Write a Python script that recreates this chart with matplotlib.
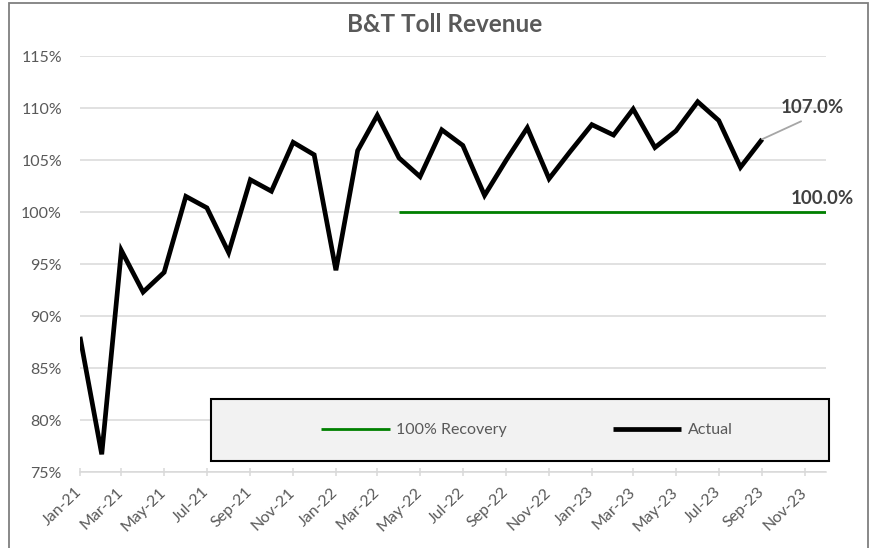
import matplotlib
matplotlib.use("Agg")
import matplotlib.pyplot as plt
import matplotlib.dates as mdates
from matplotlib.patches import Rectangle
from matplotlib.ticker import FuncFormatter, MultipleLocator
import pandas as pd

# ---- data ----
actual_start = "2021-01-01"
actual_values = [88.0, 76.7, 96.3, 92.3, 94.2, 101.5, 100.4, 96.1, 103.1, 102.0, 106.7, 105.5,
                 94.4, 105.9, 109.3, 105.2, 103.4, 107.9, 106.4, 101.6, 105.0, 108.1, 103.2, 105.8,
                 108.4, 107.4, 109.9, 106.2, 107.8, 110.6, 108.8, 104.3, 107.0]
recovery_start = "2022-04-01"
recovery_end = "2023-12-01"
recovery_level = 100.0
title = "B&T Toll Revenue"
series_names = ["100% Recovery", "Actual"]

actual_months = pd.date_range(actual_start, periods=len(actual_values), freq="MS")
recovery_months = pd.date_range(recovery_start, recovery_end, freq="MS")
recovery_values = [recovery_level] * len(recovery_months)

W, H = 875, 548
fig = plt.figure(figsize=(W / 100, H / 100), dpi=100)
plt.rcParams['font.family'] = ['Lato', 'DejaVu Sans']

def fx(px):
    return px / W

def fy(py):
    return 1 - py / H

ax_l, ax_r, ax_t, ax_b = 80, 826, 56, 472
ax = fig.add_axes([fx(ax_l), fy(ax_b), fx(ax_r - ax_l), (ax_b - ax_t) / H])

grid_c = "#d9d9d9"
text_c = "#595959"

ax.plot(recovery_months, recovery_values, color="#008000", lw=2.0, zorder=3,
        solid_capstyle="butt", label=series_names[0])
ax.plot(actual_months, actual_values, color="black", lw=3.4, zorder=3,
        solid_joinstyle="miter", solid_capstyle="butt", label=series_names[1])

ax.set_xlim(pd.Timestamp("2021-01-01"), pd.Timestamp("2023-12-01"))
ax.set_ylim(75, 115)

ax.yaxis.set_major_locator(MultipleLocator(5))
ax.yaxis.set_major_formatter(FuncFormatter(lambda v, p: f"{v:.0f}%"))
ax.xaxis.set_major_locator(mdates.MonthLocator(bymonth=[1, 3, 5, 7, 9, 11]))
ax.xaxis.set_major_formatter(mdates.DateFormatter("%b-%y"))

ax.grid(axis="y", color=grid_c, lw=1.1, zorder=0)
ax.set_axisbelow(True)
for s in ["top", "right", "left"]:
    ax.spines[s].set_visible(False)
ax.spines["bottom"].set_color(grid_c)
ax.spines["bottom"].set_linewidth(1.1)

ax.tick_params(axis="y", length=0, pad=13, labelsize=11.5, labelcolor=text_c)
ax.tick_params(axis="x", direction="inout", length=6, width=1.1, color=grid_c,
               labelsize=11.5, labelcolor=text_c, pad=10)
for lab in ax.get_xticklabels():
    lab.set_rotation(44)
    lab.set_ha("right")
    lab.set_va("center")
    lab.set_rotation_mode("anchor")

fig.text(fx(445), fy(25), title, ha="center", va="center", fontsize=17.5,
         fontweight="bold", color=text_c)

# data labels
ax.annotate(f"{actual_values[-1]:.1f}%", xy=(actual_months[-1], actual_values[-1]),
            xytext=(50, 23), textcoords="offset pixels", ha="center", va="bottom",
            fontsize=13.5, fontweight="bold", color="#404040",
            arrowprops=dict(arrowstyle="-", color="#a6a6a6", lw=1.3, shrinkA=4, shrinkB=0,
                            relpos=(0.5, 0.0)))
ax.annotate(f"{recovery_values[-1]:.1f}%", xy=(recovery_months[-1], recovery_values[-1]),
            xytext=(-4, 14), textcoords="offset pixels", ha="center", va="center",
            fontsize=13.5, fontweight="bold", color="#404040", annotation_clip=False)

# legend box
box = Rectangle((fx(211), fy(461)), fx(829 - 211), (461 - 399) / H, transform=fig.transFigure,
                facecolor="#f2f2f2", edgecolor="black", lw=1.5, zorder=4, clip_on=False)
ax.add_patch(box)
leg = ax.legend(loc="center", bbox_to_anchor=(fx(527), fy(430)), bbox_transform=fig.transFigure,
                ncol=2, frameon=False, fontsize=11.5, handlelength=4.3, handletextpad=0.4,
                columnspacing=6.6, labelcolor=text_c)
leg.set_zorder(5)

# outer frame
frame = Rectangle((fx(9), -0.05), fx(868 - 9), fy(3) + 0.05, transform=fig.transFigure,
                  facecolor="none", edgecolor="#7f7f7f", lw=1.3, zorder=10)
fig.patches.append(frame)

fig.savefig("out.png", dpi=100)
